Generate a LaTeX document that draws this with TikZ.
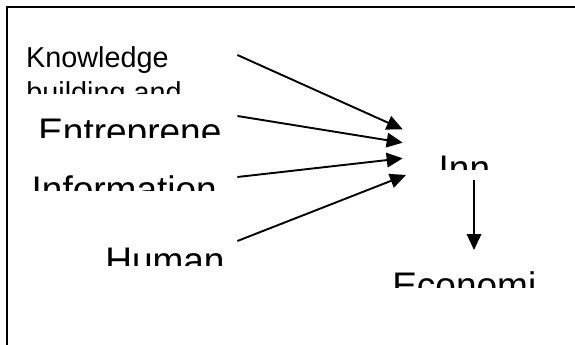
\documentclass[tikz,border=0pt]{standalone}
\usepackage{fontspec}
\setmainfont{Liberation Sans}
\usetikzlibrary{arrows.meta}

\begin{document}
\begin{tikzpicture}[x=1pt,y=-1pt,
		lbl/.style={inner sep=0pt,anchor=base west,font=\fontsize{37}{44}\selectfont},
		smalllbl/.style={lbl,font=\fontsize{28.8}{34}\selectfont}]
		\useasboundingbox (0,0) rectangle (575,345);
		\draw[line width=2pt] (575,7) -- (6.5,7) -- (6.5,345);
		%
		\begin{scope}
		\clip (10,30) rectangle (236,93.3);
		\node[smalllbl] (know) at (25.9,67.9) {Knowledge};
		\node[smalllbl] (build) at (26.2,102.3) {building and};
		\end{scope}
		\begin{scope}
		\clip (10,100) rectangle (236,137);
		\node[lbl] (entre) at (38.1,144.5) {Entreprene};
		\end{scope}
		\begin{scope}
		\clip (10,160) rectangle (236,190);
		\node[lbl] (info) at (31.5,202.5) {Information};
		\end{scope}
		\begin{scope}
		\clip (10,230) rectangle (236,265.5);
		\node[lbl] (human) at (105.1,273) {Human};
		\end{scope}
		\begin{scope}
		\clip (420,140) rectangle (520,169.3);
		\node[lbl] (inn) at (438.5,181.5) {Inn};
		\end{scope}
		\begin{scope}
		\clip (380,260) rectangle (575,287);
		\node[lbl] (econ) at (392.1,298.5) {Economi};
		\end{scope}
		%
		\path[-{Triangle[length=16pt,width=14.5pt]},line width=1.9pt]
		([shift={(68.6,-12.9)}]know.base east) edge ([shift={(-35.8,-52.2)}]inn.base west)
		([shift={(15.9,-28.5)}]entre.base east) edge ([shift={(-35.8,-38.8)}]inn.base west)
		([shift={(20.4,-25.5)}]info.base east) edge ([shift={(-35.8,-23.2)}]inn.base west)
		([shift={(12.6,-32)}]human.base east) edge ([shift={(-32.5,-6.5)}]inn.base west)
		([shift={(35.5,-1.5)}]inn.base west) edge ([shift={(81.9,-48.5)}]econ.base west);
\end{tikzpicture}
\end{document}
